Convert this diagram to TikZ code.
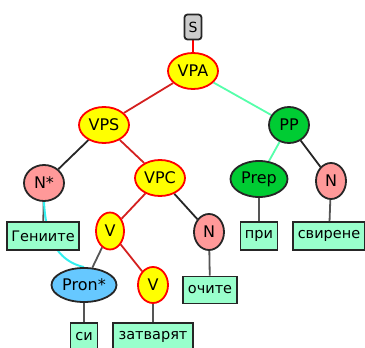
\documentclass[tikz,border=0pt]{standalone}
\usepackage{fontspec}
\setmainfont{DejaVu Sans}
\usetikzlibrary{shapes.geometric,backgrounds}
\definecolor{phrase}{HTML}{FFFF00}
\definecolor{phraseline}{HTML}{FF0000}
\definecolor{nounfill}{HTML}{FF9999}
\definecolor{prepfill}{HTML}{00CC33}
\definecolor{pronfill}{HTML}{66C8FF}
\definecolor{wordfill}{HTML}{99FFCC}
\definecolor{rootfill}{HTML}{CCCCCC}
\definecolor{redlink}{HTML}{D42020}
\definecolor{greenlink}{HTML}{55FFAA}
\definecolor{graylink}{HTML}{555555}
\definecolor{corefer}{HTML}{33F0F0}
\tikzset{
  x={(1pt,0)}, y={(0,-1pt)},
  every node/.style={font=\fontsize{16}{18}\selectfont, inner sep=0pt},
  rootbox/.style={draw=black!85, fill=rootfill, line width=1.8pt, rounded corners=3pt,
    minimum width=17pt, minimum height=25pt, font=\fontsize{14}{16}\selectfont},
  yel/.style={ellipse, draw=phraseline, fill=phrase, line width=1.8pt, minimum height=36pt},
  pink/.style={ellipse, draw=black!85, fill=nounfill, line width=1.8pt, minimum height=36pt},
  grn/.style={ellipse, draw=black!85, fill=prepfill, line width=1.8pt, minimum height=36pt},
  blu/.style={ellipse, draw=black!85, fill=pronfill, line width=1.8pt, minimum height=34pt},
  word/.style={rectangle, draw=black!85, fill=wordfill, line width=1.8pt, minimum height=28pt,
    inner xsep=4pt, font=\fontsize{14.5}{16}\selectfont},
  rl/.style={draw=redlink, line width=1.8pt},
  gl/.style={draw=greenlink, line width=1.8pt},
  bl/.style={draw=black!85, line width=1.8pt},
  ll/.style={draw=graylink, line width=1.8pt},
}
\begin{document}
\begin{tikzpicture}
\useasboundingbox (0,0) rectangle (365,348);
% phrase structure nodes
\node[rootbox] (S) at (193,27) {S};
\node[yel, minimum width=50pt] (VPA) at (193,71) {VPA};
\node[yel, minimum width=50pt] (VPS) at (104,125) {VPS};
\node[grn, minimum width=40pt] (PP) at (289,125) {PP};
\node[pink, minimum width=40pt] (Ns) at (44,183) {N*};
\node[yel, minimum width=50pt] (VPC) at (160,178) {VPC};
\node[grn, minimum width=57pt] (Prep) at (259,179) {Prep};
\node[pink, minimum width=30pt] (Nr) at (331,181) {N};
\node[yel, minimum width=28pt, minimum height=37pt] (V1) at (110,231) {V};
\node[pink, minimum width=30pt] (Nm) at (209,232) {N};
\node[blu, minimum width=65pt] (Pron) at (84,285) {Pron*};
\node[yel, minimum width=30pt] (V2) at (153,285) {V};
% word leaves
\node[word, minimum width=72pt] (wGen) at (43,236) {Гениите};
\node[word, minimum width=37pt] (wPri) at (259,236) {при};
\node[word, minimum width=72pt] (wSvir) at (329,236) {свирене};
\node[word, minimum width=54pt, minimum height=27pt] (wOch) at (210,290) {очите};
\node[word, minimum width=27pt] (wSi) at (84,337) {си};
\node[word, minimum width=80pt] (wZat) at (153,337) {затварят};
% connectors behind the nodes
\begin{pgfonlayer}{background}
\draw[draw=phraseline, line width=1.8pt] (S) -- (VPA);
\draw[rl] (VPA) -- (VPS);
\draw[gl] (VPA) -- (PP);
\draw[bl] (VPS) -- (Ns);
\draw[rl] (VPS) -- (VPC);
\draw[gl] (PP) -- (Prep);
\draw[bl] (PP) -- (Nr);
\draw[bl] (VPC) -- (Nm);
\draw[rl] (VPC) -- (V1);
\draw[ll] (V1) -- (Pron);
\draw[rl] (V1) -- (V2);
\draw[ll] (Ns) -- (wGen);
\draw[ll] (Prep) -- (wPri);
\draw[ll] (Nr) -- (wSvir);
\draw[ll] (Nm) -- (wOch);
\draw[ll] (Pron) -- (wSi);
\draw[ll] (V2) -- (wZat);
\draw[draw=corefer, line width=2pt] (Ns.south) .. controls (46,245) and (62,262) .. (Pron.north);
\end{pgfonlayer}
\end{tikzpicture}
\end{document}
